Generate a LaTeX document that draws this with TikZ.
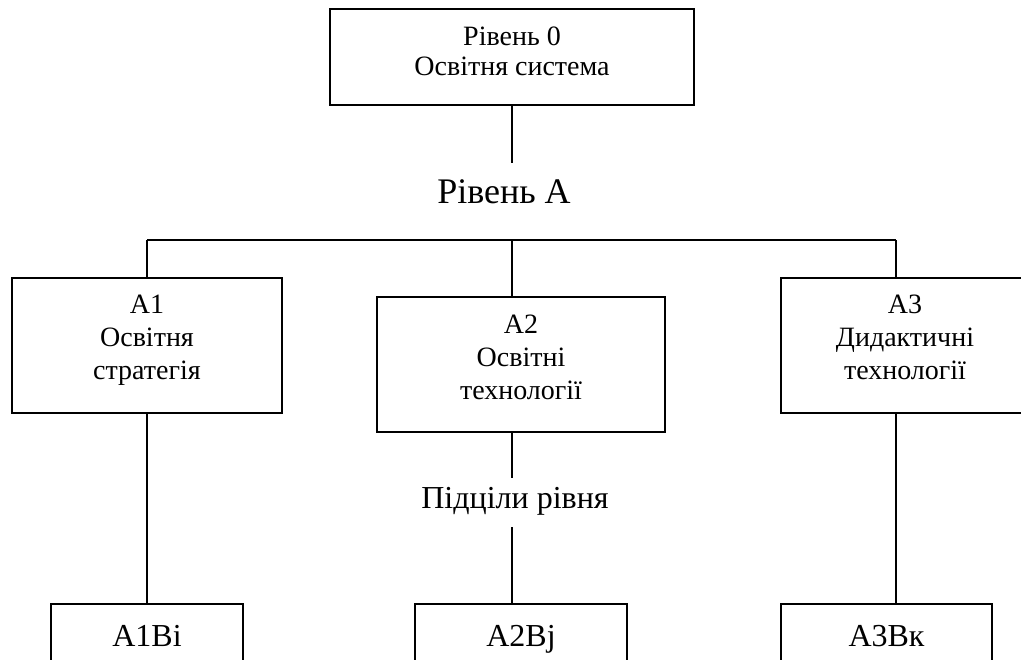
\documentclass[tikz,border=0pt]{standalone}
\usepackage{fontspec}
\setmainfont{Liberation Serif}
\usetikzlibrary{positioning}

\begin{document}
\begin{tikzpicture}[x=0.5pt,y=-0.5pt]
            \tikzstyle{box}=[rectangle,draw,thick,inner sep=0pt]
            \tikzstyle{txt}=[align=center,inner sep=0pt,font=\fontsize{14}{16.5}\selectfont]
            \tikzstyle{link}=[thick]

            \tikzstyle{L0}=[box,minimum width=182pt,minimum height=48pt]   % system
            \tikzstyle{LA}=[box,minimum height=67.5pt]                     % level A
            \tikzstyle{LB}=[box,minimum height=31pt,text height=11pt,text depth=0pt,font=\fontsize{16}{18}\selectfont] % sub-goals

            \useasboundingbox (0,0) rectangle (1021,659);

            \node[L0,label={[txt,font=\fontsize{14}{15}\selectfont,yshift=3pt]center:Рівень 0\\Освітня система}] (top) at (512,57) {};
            \node[font=\fontsize{18}{20}\selectfont,inner sep=0pt] (lvA) at (504,192) {Рівень А};

            \node[LA,minimum width=135pt,label={[txt,yshift=2.5pt]center:A1\\Освітня\\стратегія}] (A1) at (147,345.5) {};
            \node[LA,minimum width=144pt,label={[txt,yshift=3.5pt]center:A2\\Освітні\\технології}] (A2) at (521,364.5) {};
            \node[LA,minimum width=124pt,label={[txt,yshift=4pt]center:A3\\Дидактичні\\технології}] (A3) at (905,345.5) {};

            \node[font=\fontsize{16}{18}\selectfont,inner sep=0pt] (sub) at (515,501) {Підціли рівня};

            \node[LB,minimum width=96pt] (B1) at (147,635) {A1Bi};
            \node[LB,minimum width=106pt] (B2) at (521,635) {A2Bj};
            \node[LB,minimum width=105.5pt] (B3) at (886.5,635) {A3Bк};

            \coordinate (topend) at (512,163);
            \coordinate (busL) at (147,240);
            \coordinate (busR) at (896,240);
            \coordinate (subtop) at (512,478);
            \coordinate (subbot) at (512,527);

            \draw[link] (top.south) -- (topend);
            \draw[link] (busL) -- (busR);
            \draw[link] (busL) -- (A1.north);
            \draw[link] (top.south |- busL) -- (top.south |- A2.north);
            \draw[link] (busR) -- (busR |- A3.north);

            \draw[link] (A1.south) -- (B1.north);
            \draw[link] (top.south |- A2.south) -- (subtop);
            \draw[link] (subbot) -- (top.south |- B2.north);
            \draw[link] (busR |- A3.south) -- (busR |- B3.north);
\end{tikzpicture}
\end{document}
